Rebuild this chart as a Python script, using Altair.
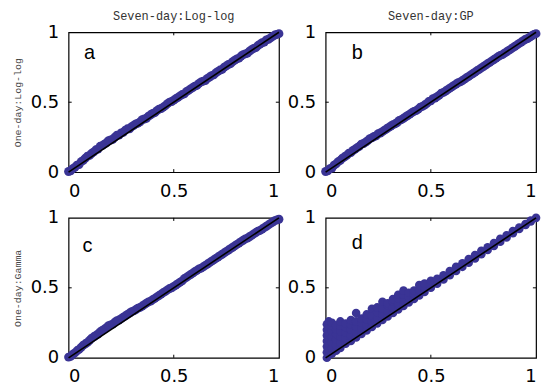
import altair as alt
import pandas as pd

# ---------------- data ----------------
grid_x = [0.00, 0.02, 0.04, 0.06, 0.08, 0.10, 0.12, 0.14, 0.16, 0.18,
          0.20, 0.22, 0.24, 0.26, 0.28, 0.30, 0.32, 0.34, 0.36, 0.38,
          0.40, 0.42, 0.44, 0.46, 0.48, 0.50, 0.52, 0.54, 0.56, 0.58,
          0.60, 0.62, 0.64, 0.66, 0.68, 0.70, 0.72, 0.74, 0.76, 0.78,
          0.80, 0.82, 0.84, 0.86, 0.88, 0.90, 0.92, 0.94, 0.96, 0.98, 1.00]
mid_x = [0.01, 0.03, 0.05, 0.07, 0.09, 0.11, 0.13, 0.15, 0.17, 0.19,
         0.21, 0.23, 0.25, 0.27, 0.29, 0.31, 0.33, 0.35, 0.37, 0.39,
         0.41, 0.43, 0.45, 0.47, 0.49, 0.51, 0.53, 0.55, 0.57, 0.59,
         0.61, 0.63, 0.65, 0.67, 0.69, 0.71, 0.73, 0.75, 0.77, 0.79,
         0.81, 0.83, 0.85, 0.87, 0.89, 0.91, 0.93, 0.95, 0.97, 0.99]

a_y = [0.005, 0.025, 0.05, 0.075, 0.10, 0.12, 0.145, 0.165, 0.19, 0.21,
       0.23, 0.25, 0.265, 0.285, 0.31, 0.325, 0.345, 0.36, 0.38, 0.40,
       0.42, 0.44, 0.455, 0.475, 0.50, 0.515, 0.535, 0.555, 0.575, 0.595,
       0.615, 0.635, 0.65, 0.67, 0.69, 0.71, 0.73, 0.75, 0.77, 0.79,
       0.81, 0.83, 0.845, 0.865, 0.885, 0.905, 0.925, 0.945, 0.96, 0.98, 0.99]
a_mid = [0.010, 0.035, 0.055, 0.085, 0.115, 0.135, 0.160, 0.185, 0.200, 0.225,
         0.235, 0.265, 0.280, 0.300, 0.310, 0.335, 0.350, 0.375, 0.385, 0.410,
         0.425, 0.450, 0.465, 0.490, 0.505, 0.525, 0.545, 0.560, 0.585, 0.605,
         0.620, 0.645, 0.655, 0.680, 0.695, 0.720, 0.735, 0.760, 0.775, 0.800,
         0.815, 0.840, 0.850, 0.875, 0.890, 0.915, 0.930, 0.950, 0.970, 0.985]

b_y = [0.005, 0.025, 0.05, 0.075, 0.10, 0.12, 0.14, 0.165, 0.185, 0.205,
       0.225, 0.245, 0.26, 0.28, 0.30, 0.32, 0.34, 0.355, 0.375, 0.395,
       0.415, 0.435, 0.45, 0.47, 0.49, 0.51, 0.53, 0.55, 0.57, 0.59,
       0.61, 0.63, 0.645, 0.665, 0.685, 0.705, 0.725, 0.745, 0.765, 0.785,
       0.805, 0.825, 0.84, 0.86, 0.88, 0.90, 0.92, 0.94, 0.955, 0.975, 0.99]
b_mid = [0.010, 0.030, 0.060, 0.085, 0.110, 0.135, 0.155, 0.175, 0.200, 0.215,
         0.240, 0.255, 0.275, 0.290, 0.310, 0.330, 0.345, 0.370, 0.385, 0.405,
         0.425, 0.440, 0.465, 0.480, 0.505, 0.525, 0.540, 0.565, 0.580, 0.600,
         0.620, 0.640, 0.655, 0.675, 0.695, 0.715, 0.735, 0.755, 0.775, 0.795,
         0.815, 0.835, 0.850, 0.870, 0.890, 0.910, 0.930, 0.950, 0.965, 0.985]

c_y = [0.005, 0.025, 0.05, 0.075, 0.10, 0.125, 0.15, 0.17, 0.195, 0.215,
       0.235, 0.255, 0.27, 0.29, 0.31, 0.33, 0.345, 0.36, 0.38, 0.40,
       0.415, 0.435, 0.455, 0.475, 0.495, 0.51, 0.53, 0.55, 0.575, 0.595,
       0.615, 0.635, 0.65, 0.67, 0.69, 0.71, 0.73, 0.75, 0.77, 0.79,
       0.81, 0.83, 0.85, 0.865, 0.885, 0.905, 0.92, 0.94, 0.96, 0.98, 0.99]
c_mid = [0.010, 0.035, 0.060, 0.090, 0.110, 0.140, 0.160, 0.185, 0.205, 0.230,
         0.240, 0.265, 0.280, 0.300, 0.320, 0.335, 0.355, 0.370, 0.390, 0.405,
         0.425, 0.445, 0.465, 0.485, 0.500, 0.520, 0.540, 0.565, 0.585, 0.605,
         0.625, 0.640, 0.660, 0.680, 0.700, 0.720, 0.740, 0.760, 0.780, 0.800,
         0.820, 0.840, 0.855, 0.875, 0.895, 0.910, 0.930, 0.950, 0.970, 0.985]

# panel d: x position -> y values of the points in that column
d_cols = {
    0.006: [0.00, 0.04, 0.08, 0.12, 0.16, 0.20, 0.24],
    0.015: [0.02, 0.06, 0.10, 0.14, 0.18, 0.22, 0.26],
    0.030: [0.03, 0.07, 0.11, 0.15, 0.19, 0.23, 0.25],
    0.050: [0.05, 0.09, 0.13, 0.17, 0.20, 0.23],
    0.070: [0.07, 0.11, 0.15, 0.19, 0.23, 0.26],
    0.095: [0.10, 0.14, 0.18, 0.22, 0.245],
    0.120: [0.12, 0.16, 0.20, 0.24, 0.27],
    0.145: [0.145, 0.185, 0.225, 0.26, 0.32],
    0.170: [0.17, 0.21, 0.25, 0.28],
    0.195: [0.195, 0.235, 0.275, 0.31],
    0.220: [0.22, 0.26, 0.30, 0.35],
    0.245: [0.245, 0.285, 0.325, 0.36],
    0.270: [0.27, 0.31, 0.35, 0.40],
    0.295: [0.295, 0.335, 0.375, 0.39],
    0.320: [0.32, 0.36, 0.40, 0.42],
    0.345: [0.345, 0.385, 0.425, 0.45],
    0.370: [0.37, 0.41, 0.45, 0.48],
    0.395: [0.395, 0.435, 0.465],
    0.420: [0.42, 0.46, 0.48],
    0.445: [0.445, 0.485, 0.52],
    0.470: [0.47, 0.505, 0.53],
    0.500: [0.50, 0.535, 0.55],
    0.530: [0.53, 0.565],
    0.560: [0.56, 0.59],
    0.590: [0.59, 0.62],
    0.620: [0.62, 0.65],
    0.650: [0.65, 0.675],
    0.680: [0.68, 0.705],
    0.710: [0.71, 0.735],
    0.740: [0.74, 0.765],
    0.770: [0.77, 0.79],
    0.800: [0.80, 0.82],
    0.830: [0.83, 0.85],
    0.860: [0.86, 0.875],
    0.890: [0.89, 0.905],
    0.920: [0.92, 0.93],
    0.950: [0.95, 0.955],
    0.975: [0.975, 0.98],
    1.000: [1.00],
}

line_x = [0, 1]
line_y = [0, 1]
tick_vals = [0.5]
axis_vals = [0, 0.5, 1]

col_titles = ["Seven-day:Log-log", "Seven-day:GP"]
row_titles = ["One-day:Log-log", "One-day:Gamma"]
panel_letters = ["a", "b", "c", "d"]
letter_x = [0.10, 0.15, 0.09, 0.15]
letter_y = [0.85, 0.85, 0.80, 0.82]

# ---------------- styling ----------------
PT_COLOR = "#3a3495"
TICK_LEN_X = 0.015  # tick length in x units
TICK_LEN_Y = 0.022  # tick length in y units
W, H = 212, 141


def make_panel(xs, ys, idx, top_title=None, y_title=None, pt_size=80):
    pts = pd.DataFrame({"x": xs, "y": ys})
    line_df = pd.DataFrame({"x": line_x, "y": line_y})
    letter_df = pd.DataFrame({"x": [letter_x[idx]], "y": [letter_y[idx]],
                              "t": [panel_letters[idx]]})
    vt = []
    for v in tick_vals:
        vt.append({"x": v, "y": 0, "y2": TICK_LEN_Y})
        vt.append({"x": v, "y": 1, "y2": 1 - TICK_LEN_Y})
    ht = []
    for v in tick_vals:
        ht.append({"y": v, "x": 0, "x2": TICK_LEN_X})
        ht.append({"y": v, "x": 1, "x2": 1 - TICK_LEN_X})
    vt_df = pd.DataFrame(vt)
    ht_df = pd.DataFrame(ht)

    xaxis = alt.Axis(values=axis_vals, format="~g", grid=False, ticks=False,
                     domain=False, labelPadding=10, labelFontSize=18,
                     labelFont="DejaVu Sans", labelColor="black", title=None)
    yaxis_kwargs = dict(values=axis_vals, format="~g", grid=False, ticks=False,
                        domain=False, labelPadding=10, labelFontSize=18,
                        labelFont="DejaVu Sans", labelColor="black")
    if y_title:
        yaxis_kwargs.update(title=y_title, titleFont="Liberation Mono",
                            titleFontSize=10, titleFontWeight="normal",
                            titleColor="#444444", titlePadding=8)
    else:
        yaxis_kwargs.update(title=None)
    yaxis = alt.Axis(**yaxis_kwargs)
    xs_ = alt.Scale(domain=[0, 1], nice=False, zero=False)
    ys_ = alt.Scale(domain=[0, 1], nice=False, zero=False)
    X = alt.X("x:Q", scale=xs_, axis=xaxis)
    Y = alt.Y("y:Q", scale=ys_, axis=yaxis)

    points = alt.Chart(pts).mark_circle(size=pt_size, color=PT_COLOR,
                                        opacity=1).encode(x=X, y=Y)
    line = alt.Chart(line_df).mark_line(color="black", strokeWidth=1.6).encode(x=X, y=Y)
    vticks = alt.Chart(vt_df).mark_rule(color="black", strokeWidth=1).encode(
        x=X, y=Y, y2="y2:Q")
    hticks = alt.Chart(ht_df).mark_rule(color="black", strokeWidth=1).encode(
        x=X, x2="x2:Q", y=Y)
    letter = alt.Chart(letter_df).mark_text(font="Liberation Sans", fontSize=20,
                                            color="black", baseline="middle",
                                            align="center").encode(x=X, y=Y, text="t:N")
    layer = alt.layer(points, line, vticks, hticks, letter)
    props = dict(width=W, height=H)
    if top_title:
        props["title"] = alt.TitleParams(text=top_title, font="Liberation Mono",
                                         fontSize=12, fontWeight="normal",
                                         color="#333333", offset=0)
    return layer.properties(**props)


d_x, d_y = [], []
for cx, cys in d_cols.items():
    for cy in cys:
        d_x.append(cx)
        d_y.append(cy)

pa = make_panel(grid_x + mid_x, a_y + a_mid, 0, top_title=col_titles[0],
                y_title=row_titles[0])
pb = make_panel(grid_x + mid_x, b_y + b_mid, 1, top_title=col_titles[1])
pc = make_panel(grid_x + mid_x, c_y + c_mid, 2, y_title=row_titles[1])
pdd = make_panel(d_x, d_y, 3, pt_size=75)

chart = alt.concat(
    pa, pb, pc, pdd,
    columns=2,
    spacing={"row": 46, "column": 47},
    bounds="flush",
).properties(
    padding={"left": 3, "top": 0, "right": 0, "bottom": 0},
    background="white",
).configure_view(stroke="black", strokeWidth=1.2)

chart.save("out.html", embed_options={"renderer": "svg", "actions": False})
